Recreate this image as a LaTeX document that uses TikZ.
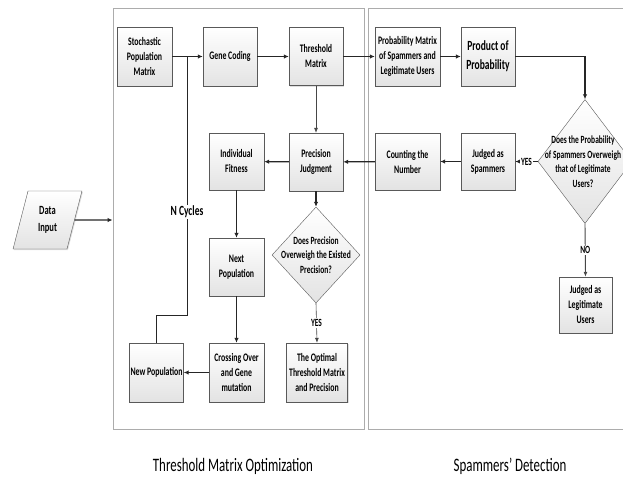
\documentclass[tikz,border=0pt]{standalone}
\usepackage{fontspec}
\setmainfont{Carlito}
\newfontfamily\boxfont[FakeStretch=0.68]{Carlito}
\usepackage{tikz}
\usetikzlibrary{shapes.geometric}
\usetikzlibrary{arrows.meta}
\usetikzlibrary{shadows}
\tikzset{ proc_box/.style = {rectangle, draw=gray!70!black, top color=white, bottom color=gray!22, drop shadow={opacity=0.25, shadow xshift=1pt, shadow yshift=-1pt}, align=center, inner sep=1pt, font=\boxfont\bfseries\fontsize{11.5}{15}\selectfont} }
\tikzset{ decision/.style = {diamond, draw=gray!70!black, top color=white, bottom color=gray!22, inner sep=0pt} }
\tikzset{ dec_text/.style = {align=center, font=\boxfont\bfseries\fontsize{11}{14.5}\selectfont} }
\tikzset{ io_box/.style = {trapezium, trapezium left angle=75, trapezium right angle=105, trapezium stretches=true, draw=gray!70!black, top color=white, bottom color=gray!22, drop shadow={opacity=0.25, shadow xshift=1pt, shadow yshift=-1pt}, align=center, inner sep=0pt, font=\boxfont\bfseries\fontsize{12.5}{17}\selectfont} }
\tikzset{ frame_box/.style = {rectangle, draw=gray!65, line width=0.9pt} }
\tikzset{ flow/.style = {-{Latex[length=5pt,width=4.5pt]}, line width=1.3pt, draw=gray!30!black} }
\tikzset{ thin_flow/.style = {-{Latex[length=5pt,width=4pt]}, line width=0.6pt, draw=gray!55!black} }
\tikzset{ tag/.style = {fill=white, inner sep=1pt, font=\boxfont\bfseries\fontsize{11}{13}\selectfont} }
\tikzset{ caption/.style = {font=\boxfont\fontsize{19}{22}\selectfont} }

\begin{document}
\begin{tikzpicture}[x=1pt, y=-1pt]
    \useasboundingbox (0,0) rectangle (623,477);
    % frames
    \node[frame_box, minimum width=251, minimum height=421] (opt_frame) at (238.5,218.5) {};
    \node[frame_box, minimum width=264, minimum height=421] (det_frame) at (500,218.5) {};
    \node[caption] (opt_cap) at (233,466) {Threshold Matrix Optimization};
    \node[caption] (det_cap) at (510,466) {Spammers’ Detection};

    % threshold matrix optimization
    \node[io_box, minimum width=69, minimum height=58] (data) at (47.5,220) {Data\\Input};
    \node[proc_box, minimum width=55, minimum height=59] (stoch) at (144.5,56.5) {Stochastic\\Population\\Matrix};
    \node[proc_box, minimum width=54, minimum height=59] (gene) at (230,56.5) {Gene Coding};
    \node[proc_box, minimum width=54, minimum height=58] (thresh) at (316,56.5) {Threshold\\Matrix};
    \node[proc_box, minimum width=54, minimum height=58] (prec) at (316,162) {Precision\\Judgment};
    \node[proc_box, minimum width=55, minimum height=57] (fit) at (236.5,161.5) {Individual\\Fitness};
    \node[proc_box, minimum width=55, minimum height=58] (next_pop) at (236.5,267) {Next\\Population};
    \node[proc_box, minimum width=55, minimum height=59] (cross) at (236.5,372.5) {Crossing Over\\and Gene\\mutation};
    \node[proc_box, minimum width=53, minimum height=59] (new_pop) at (156.5,372.5) {New Population};
    \node[proc_box, minimum width=61, minimum height=59] (optimal) at (317,372.5) {The Optimal\\Threshold Matrix\\and Precision};
    \node[decision, minimum width=88, minimum height=96] (dec_prec) at (316,255) {};
    \node[dec_text] at (dec_prec) {Does Precision\\Overweigh the Existed\\Precision?};

    % spammers detection
    \node[proc_box, minimum width=65, minimum height=59] (prob_mat) at (407.5,56.5) {Probability Matrix\\of Spammers and\\Legitimate Users};
    \node[proc_box, minimum width=54, minimum height=59, font=\boxfont\bfseries\fontsize{14}{19}\selectfont] (product) at (488,56.5) {Product of\\Probability};
    \node[decision, minimum width=94, minimum height=124] (dec_prob) at (585,161.5) {};
    \node[dec_text] at (583,161.5) {Does the Probability\\of Spammers Overweigh\\that of Legitimate\\Users?};
    \node[proc_box, minimum width=54, minimum height=57] (spam) at (488,161.5) {Judged as\\Spammers};
    \node[proc_box, minimum width=65, minimum height=57] (count) at (407.5,161.5) {Counting the\\Number};
    \node[proc_box, minimum width=53, minimum height=56] (legit) at (585.5,305) {Judged as\\Legitimate\\Users};

    \coordinate (loop_turn) at (187,315);

    \draw[flow] (data) -- (data -| opt_frame.west);
    \draw[flow] (stoch) -- (gene);
    \draw[flow] (gene) -- (thresh);
    \draw[flow] (thresh) -- (prob_mat);
    \draw[flow] (prob_mat) -- (product);
    \draw[flow] (product.east) -| (dec_prob.north);
    \draw[flow] (dec_prob.west) -- node[tag] {YES} (spam.east);
    \draw[flow] (spam) -- (count);
    \draw[flow] (count) -- (prec);
    \draw[thin_flow] (thresh) -- (prec);
    \draw[flow] (prec) -- (fit);
    \draw[flow] (prec) -- (dec_prec.north);
    \draw[thin_flow] (dec_prec.south) -- node[tag] {YES} (optimal.north);
    \draw[flow] (fit) -- (next_pop);
    \draw[flow] (next_pop) -- (cross);
    \draw[flow] (cross) -- (new_pop);
    \draw[line width=1pt, draw=gray!30!black] (new_pop.north) |- (loop_turn) -- node[tag, pos=0.4, font=\boxfont\bfseries\fontsize{14}{16}\selectfont] {N Cycles} (loop_turn |- stoch.east);
    \draw[thin_flow, line width=0.9pt] (dec_prob.south) -- node[tag] {NO} (legit.north);
\end{tikzpicture}
\end{document}
